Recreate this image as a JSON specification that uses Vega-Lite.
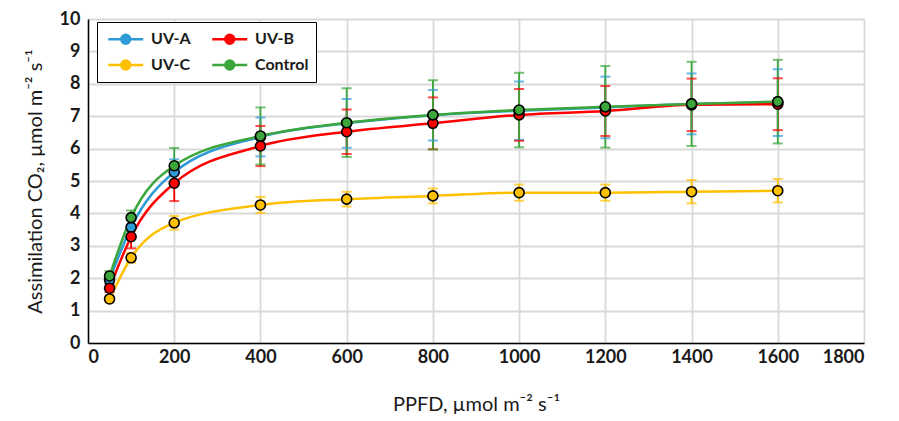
{
  "$schema": "https://vega.github.io/schema/vega-lite/v6.json",
  "autosize": "none",
  "width": 776,
  "height": 324,
  "padding": {"left": 88, "top": 19, "right": 35, "bottom": 78},
  "background": "white",
  "config": {
    "view": {"stroke": null},
    "font": "Lato"
  },
  "data": {"values": [
    {"ppfd": 50, "group": "UV-A", "a": 1.95, "lo": 1.83, "hi": 2.07},
    {"ppfd": 100, "group": "UV-A", "a": 3.57, "lo": 3.32, "hi": 3.82},
    {"ppfd": 200, "group": "UV-A", "a": 5.27, "lo": 4.87, "hi": 5.67},
    {"ppfd": 400, "group": "UV-A", "a": 6.36, "lo": 5.76, "hi": 6.96},
    {"ppfd": 600, "group": "UV-A", "a": 6.78, "lo": 6.03, "hi": 7.53},
    {"ppfd": 800, "group": "UV-A", "a": 7.03, "lo": 6.25, "hi": 7.81},
    {"ppfd": 1000, "group": "UV-A", "a": 7.17, "lo": 6.27, "hi": 8.07},
    {"ppfd": 1200, "group": "UV-A", "a": 7.27, "lo": 6.32, "hi": 8.22},
    {"ppfd": 1400, "group": "UV-A", "a": 7.38, "lo": 6.44, "hi": 8.32},
    {"ppfd": 1600, "group": "UV-A", "a": 7.42, "lo": 6.39, "hi": 8.45},
    {"ppfd": 50, "group": "UV-B", "a": 1.69, "lo": 1.57, "hi": 1.81},
    {"ppfd": 100, "group": "UV-B", "a": 3.28, "lo": 2.92, "hi": 3.64},
    {"ppfd": 200, "group": "UV-B", "a": 4.93, "lo": 4.38, "hi": 5.48},
    {"ppfd": 400, "group": "UV-B", "a": 6.08, "lo": 5.46, "hi": 6.70},
    {"ppfd": 600, "group": "UV-B", "a": 6.52, "lo": 5.83, "hi": 7.21},
    {"ppfd": 800, "group": "UV-B", "a": 6.78, "lo": 5.98, "hi": 7.58},
    {"ppfd": 1000, "group": "UV-B", "a": 7.04, "lo": 6.24, "hi": 7.84},
    {"ppfd": 1200, "group": "UV-B", "a": 7.16, "lo": 6.39, "hi": 7.93},
    {"ppfd": 1400, "group": "UV-B", "a": 7.35, "lo": 6.54, "hi": 8.16},
    {"ppfd": 1600, "group": "UV-B", "a": 7.37, "lo": 6.57, "hi": 8.17},
    {"ppfd": 50, "group": "UV-C", "a": 1.36, "lo": 1.26, "hi": 1.46},
    {"ppfd": 100, "group": "UV-C", "a": 2.63, "lo": 2.48, "hi": 2.78},
    {"ppfd": 200, "group": "UV-C", "a": 3.71, "lo": 3.50, "hi": 3.92},
    {"ppfd": 400, "group": "UV-C", "a": 4.26, "lo": 4.01, "hi": 4.51},
    {"ppfd": 600, "group": "UV-C", "a": 4.44, "lo": 4.21, "hi": 4.67},
    {"ppfd": 800, "group": "UV-C", "a": 4.54, "lo": 4.31, "hi": 4.77},
    {"ppfd": 1000, "group": "UV-C", "a": 4.64, "lo": 4.39, "hi": 4.89},
    {"ppfd": 1200, "group": "UV-C", "a": 4.64, "lo": 4.39, "hi": 4.89},
    {"ppfd": 1400, "group": "UV-C", "a": 4.67, "lo": 4.31, "hi": 5.03},
    {"ppfd": 1600, "group": "UV-C", "a": 4.70, "lo": 4.34, "hi": 5.06},
    {"ppfd": 50, "group": "Control", "a": 2.07, "lo": 1.92, "hi": 2.22},
    {"ppfd": 100, "group": "Control", "a": 3.87, "lo": 3.65, "hi": 4.09},
    {"ppfd": 200, "group": "Control", "a": 5.47, "lo": 4.92, "hi": 6.02},
    {"ppfd": 400, "group": "Control", "a": 6.39, "lo": 5.51, "hi": 7.27},
    {"ppfd": 600, "group": "Control", "a": 6.80, "lo": 5.74, "hi": 7.86},
    {"ppfd": 800, "group": "Control", "a": 7.04, "lo": 5.97, "hi": 8.11},
    {"ppfd": 1000, "group": "Control", "a": 7.19, "lo": 6.04, "hi": 8.34},
    {"ppfd": 1200, "group": "Control", "a": 7.29, "lo": 6.03, "hi": 8.55},
    {"ppfd": 1400, "group": "Control", "a": 7.38, "lo": 6.08, "hi": 8.68},
    {"ppfd": 1600, "group": "Control", "a": 7.45, "lo": 6.16, "hi": 8.74}
  ]},
  "encoding": {
    "x": {
      "field": "ppfd", "type": "quantitative",
      "scale": {"domain": [0, 1800], "nice": false},
      "axis": {
        "values": [0, 200, 400, 600, 800, 1000, 1200, 1400, 1600, 1800],
        "format": "d",
        "labelOverlap": false,
        "title": "PPFD,  µmol m⁻² s⁻¹",
        "titleFont": "Lato", "titleFontSize": 20, "titleFontWeight": "normal", "titleColor": "#1a1a1a",
        "titlePadding": 28,
        "labelFont": "Lato", "labelFontSize": 18, "labelFontWeight": "bold", "labelColor": "#1a1a1a",
        "labelPadding": 5,
        "domainColor": "#000000", "domainWidth": 1.5,
        "ticks": false,
        "grid": true, "gridColor": "#d9d9d9", "gridWidth": 1.8
      }
    },
    "y": {
      "field": "a", "type": "quantitative",
      "scale": {"domain": [0, 10], "nice": false},
      "axis": {
        "values": [0, 1, 2, 3, 4, 5, 6, 7, 8, 9, 10],
        "labelOverlap": false,
        "title": "Assimilation CO₂, µmol m⁻² s⁻¹",
        "titleFont": "Lato", "titleFontSize": 20, "titleFontWeight": "normal", "titleColor": "#1a1a1a",
        "titlePadding": 14,
        "labelFont": "Lato", "labelFontSize": 18, "labelFontWeight": "bold", "labelColor": "#1a1a1a",
        "labelPadding": 8,
        "domainColor": "#000000", "domainWidth": 1.5,
        "ticks": false,
        "grid": true, "gridColor": "#d9d9d9", "gridWidth": 1.8
      }
    },
    "color": {
      "field": "group", "type": "nominal",
      "scale": {"domain": ["UV-A", "UV-B", "UV-C", "Control"], "range": ["#2f9bd6", "#ff0000", "#ffc000", "#3ba63b"]},
      "legend": {
        "title": null,
        "orient": "none", "legendX": 9, "legendY": 3,
        "direction": "horizontal", "columns": 2,
        "strokeColor": "#000000", "fillColor": "white", "padding": 7,
        "symbolType": "M-1,0H0.49M1.51,0H3M1.51,0A0.51,0.51 0 1,1 0.49,0A0.51,0.51 0 1,1 1.51,0Z",
        "symbolSize": 306, "symbolStrokeWidth": 2.5, "symbolOffset": 3,
        "labelFont": "Lato", "labelFontSize": 16, "labelFontWeight": "bold", "labelColor": "#1a1a1a",
        "labelOffset": 24, "columnPadding": 16, "rowPadding": 6,
        "encode": {"symbols": {"update": {
          "fill": {"scale": "color", "field": "value"},
          "stroke": {"scale": "color", "field": "value"},
          "opacity": {"value": 1}
        }}}
      }
    }
  },
  "layer": [
    {
      "mark": {"type": "line", "interpolate": "monotone", "strokeWidth": 2.5}
    },
    {
      "mark": {"type": "rule", "strokeWidth": 1.8},
      "encoding": {
        "y": {"field": "lo", "type": "quantitative"},
        "y2": {"field": "hi"}
      }
    },
    {
      "mark": {"type": "tick", "orient": "horizontal", "size": 10, "thickness": 2},
      "encoding": {"y": {"field": "lo", "type": "quantitative"}}
    },
    {
      "mark": {"type": "tick", "orient": "horizontal", "size": 10, "thickness": 2},
      "encoding": {"y": {"field": "hi", "type": "quantitative"}}
    },
    {
      "mark": {"type": "point", "filled": true, "size": 100, "stroke": "#000000", "strokeWidth": 1.6, "opacity": 1}
    }
  ]
}
